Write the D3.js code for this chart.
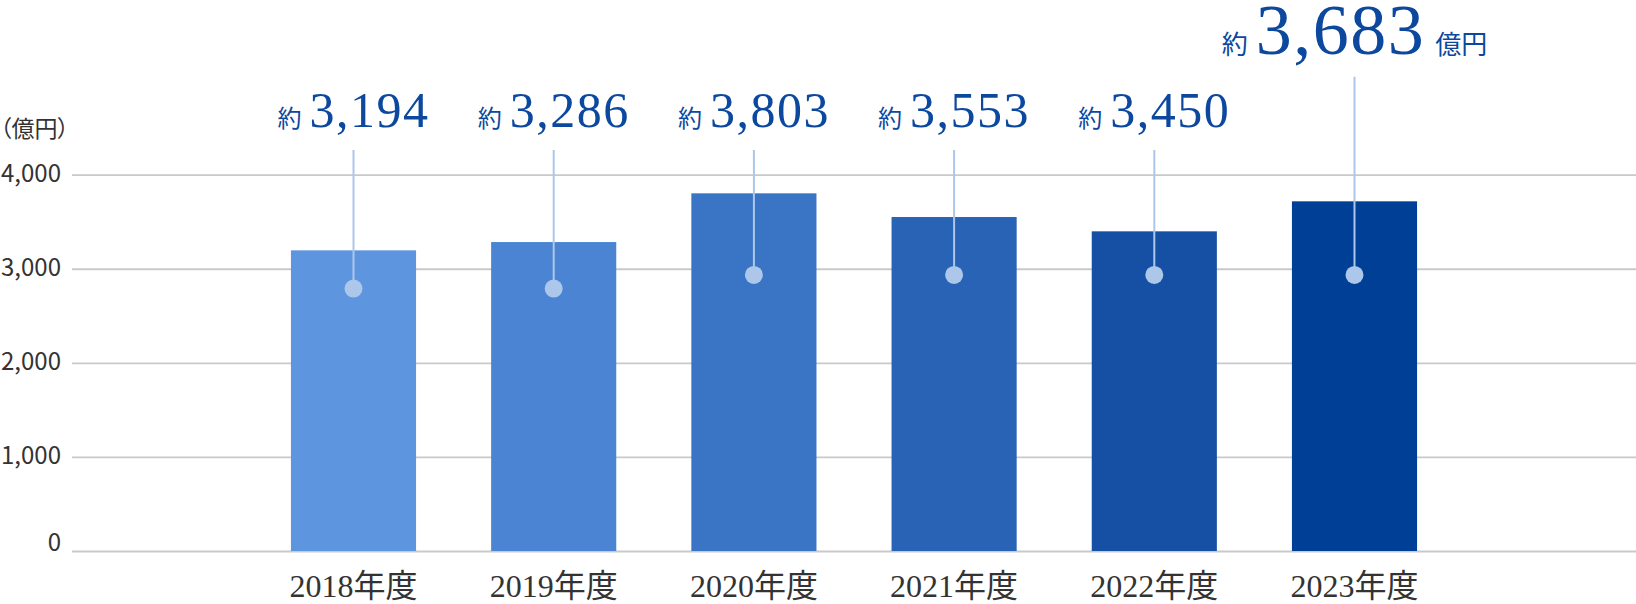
<!DOCTYPE html>
<html lang="ja">
<head>
<meta charset="utf-8">
<script src="https://cdn.jsdelivr.net/npm/d3@7/dist/d3.min.js"></script>
<style>
  html, body { margin: 0; padding: 0; background: #ffffff; }
  svg { display: block; }
  .unit { font-feature-settings: "palt"; }
</style>
</head>
<body>
<svg id="chart" width="1636" height="604"></svg>
<script>
// ---- data ----
const categories = ["2018年度", "2019年度", "2020年度", "2021年度", "2022年度", "2023年度"];
const barValues = [3196, 3284, 3802, 3550, 3398, 3717];
const labelValues = [3194, 3286, 3803, 3553, 3450, 3683];
const yTicks = [0, 1000, 2000, 3000, 4000];
const unitLabel = "（億円）";
const approxPrefix = "約";
const unitSuffix = "億円";

// ---- styles / layout ----
const barColors = ["#5e95df", "#4a84d3", "#3a74c4", "#2963b5", "#1650a4", "#003f96"];
const labelColor = "#0b489e";
const stemColor = "#adc7ea";
const gridColor = "#c9c9c9";
const textColor = "#333333";
const dotLevels = [2790, 2790, 2935, 2935, 2935, 2935];
const highlightIndex = 5;

const W = 1636, H = 604;
const plotLeft = 72, plotRight = 1636, plotTop = 174.7, plotBottom = 551;

const svg = d3.select("#chart");

const y = d3.scaleLinear().domain([0, 4000]).range([plotBottom, plotTop]);
const x = d3.scaleBand().domain(categories)
  .range([253.4, 1454.6]).paddingInner(0.375).paddingOuter(0.1875);

// gridlines
const grid = svg.append("g").attr("transform", `translate(${plotLeft},0)`)
  .call(d3.axisLeft(y).tickValues(yTicks).tickSize(-(plotRight - plotLeft)).tickFormat(""));
grid.select(".domain").remove();
grid.selectAll(".tick line").attr("stroke", gridColor).attr("stroke-width", 1.8);

// y tick labels
const yAxis = svg.append("g").attr("transform", `translate(${plotLeft},0)`)
  .call(d3.axisLeft(y).tickValues(yTicks).tickFormat(d3.format(",")).tickSize(0).tickPadding(11));
yAxis.select(".domain").remove();
yAxis.selectAll(".tick text")
  .attr("fill", textColor)
  .style("font-family", "'Noto Sans CJK JP', 'Noto Sans', sans-serif")
  .style("font-size", "24px")
  .attr("dy", d => d === 0 ? "-0.02em" : "0.28em");

// unit label
svg.append("text").attr("class", "unit")
  .attr("x", 0).attr("y", 137)
  .attr("fill", textColor)
  .style("font-family", "'Noto Sans CJK JP', sans-serif")
  .style("font-size", "23px")
  .text(unitLabel);

// bars
svg.append("g").selectAll("rect").data(categories).join("rect")
  .attr("x", d => x(d))
  .attr("width", x.bandwidth())
  .attr("y", (d, i) => y(barValues[i]))
  .attr("height", (d, i) => y(0) - y(barValues[i]))
  .attr("fill", (d, i) => barColors[i]);

// x axis labels
const xAxis = svg.append("g").attr("transform", `translate(0,${plotBottom})`)
  .call(d3.axisBottom(x).tickSize(0));
xAxis.select(".domain").remove();
xAxis.selectAll(".tick text")
  .attr("y", 46).attr("dy", 0)
  .attr("fill", textColor)
  .style("font-family", "'Liberation Serif', 'Noto Sans CJK JP', serif")
  .style("font-size", "32px");

// stems and dots
const cx = d => x(d) + x.bandwidth() / 2;
const stemTop = i => i === highlightIndex ? 76.7 : 150;
svg.append("g").selectAll("line").data(categories).join("line")
  .attr("x1", cx).attr("x2", cx)
  .attr("y1", (d, i) => stemTop(i))
  .attr("y2", (d, i) => y(dotLevels[i]))
  .attr("stroke", stemColor).attr("stroke-width", 2);
svg.append("g").selectAll("circle").data(categories).join("circle")
  .attr("cx", cx)
  .attr("cy", (d, i) => y(dotLevels[i]))
  .attr("r", 9)
  .attr("fill", stemColor);

// value labels
const fmt = d3.format(",");
const labels = svg.append("g").selectAll("text").data(categories).join("text")
  .attr("x", cx)
  .attr("y", (d, i) => i === highlightIndex ? 54 : 126.7)
  .attr("text-anchor", "middle")
  .attr("fill", labelColor);

labels.each(function(d, i) {
  const t = d3.select(this);
  const big = i === highlightIndex;
  t.append("tspan")
    .style("font-family", "'Noto Sans CJK JP', sans-serif")
    .style("font-size", big ? "26px" : "24px")
    .text(approxPrefix);
  t.append("tspan")
    .attr("dx", 8)
    .style("font-family", "'Liberation Serif', serif")
    .style("font-size", big ? "72px" : "50px")
    .style("letter-spacing", big ? "1.5px" : "1.5px")
    .text(fmt(labelValues[i]));
  if (big) {
    t.append("tspan")
      .attr("dx", 10)
      .style("font-family", "'Noto Sans CJK JP', sans-serif")
      .style("font-size", "26px")
      .text(unitSuffix);
  }
});
</script>
</body>
</html>
